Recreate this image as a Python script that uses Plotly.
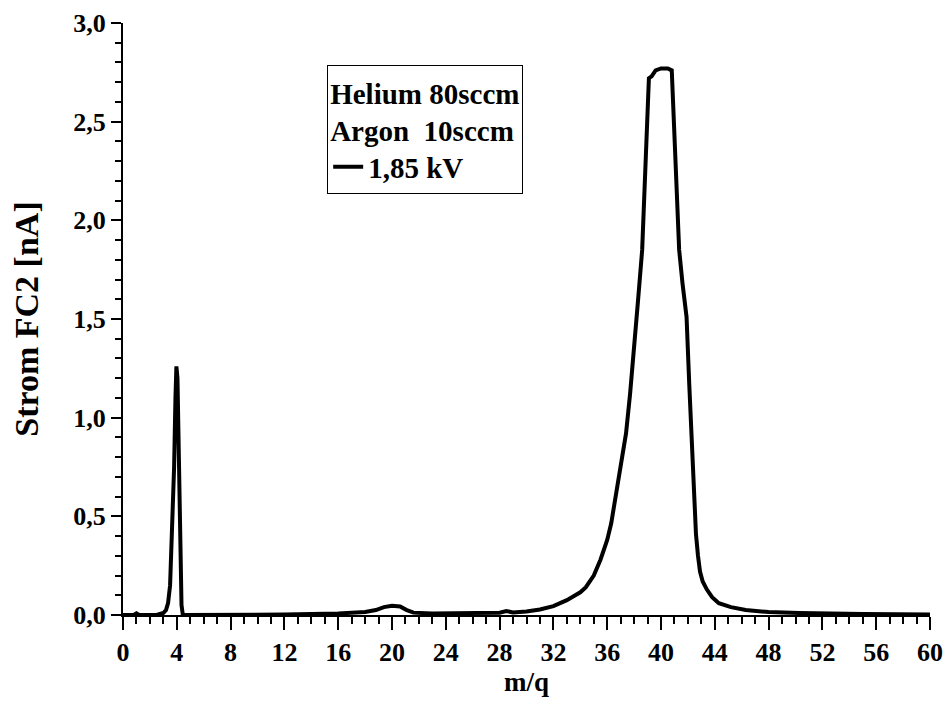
import plotly.graph_objects as go

# ─── Data ─────────────────────────────────────────────────
mq = [0, 0.8, 1.0, 1.2, 2.5, 3.0, 3.2, 3.35, 3.5, 3.65, 3.8, 3.9, 3.97, 4.05,
      4.15, 4.25, 4.35, 4.45, 8, 12, 16, 18, 18.8, 19.4, 20.0, 20.6, 21.1,
      21.6, 23, 26, 28.0, 28.5, 29.0, 30.0, 31.0, 32.0, 32.6, 33.0, 33.5, 34.0,
      34.4, 35.0, 35.5, 36.0, 36.3, 36.7, 37.0, 37.4, 37.7, 38.0, 38.3, 38.6,
      38.85, 39.1, 39.3, 39.6, 40.0, 40.5, 40.8, 41.1, 41.35, 41.6, 41.9, 42.1,
      42.3, 42.45, 42.6, 42.75, 42.9, 43.1, 43.4, 43.8, 44.3, 45.2, 46.3, 48,
      50.3, 55, 60]
strom = [0.0, 0.0, 0.008, 0.0, 0.0, 0.01, 0.025, 0.06, 0.15, 0.4, 0.75, 1.1,
         1.26, 1.2, 0.8, 0.35, 0.05, 0.0, 0.0, 0.002, 0.008, 0.015, 0.025,
         0.04, 0.047, 0.043, 0.025, 0.012, 0.008, 0.008, 0.012, 0.02, 0.013,
         0.018, 0.028, 0.045, 0.06, 0.075, 0.095, 0.115, 0.14, 0.2, 0.28, 0.38,
         0.465, 0.63, 0.76, 0.92, 1.12, 1.34, 1.6, 1.85, 2.3, 2.72, 2.73, 2.76,
         2.77, 2.77, 2.76, 2.3, 1.85, 1.68, 1.51, 1.17, 0.83, 0.6, 0.41, 0.3,
         0.22, 0.17, 0.13, 0.09, 0.06, 0.04, 0.025, 0.015, 0.01, 0.005, 0.003]

series_name = "1,85 kV"
legend_title = "Helium 80sccm<br>Argon\u00a0 10sccm"

FONT = "Liberation Serif, Times New Roman, serif"

fig = go.Figure()
fig.add_trace(go.Scatter(
    x=mq, y=strom, mode="lines", name=series_name,
    line=dict(color="black", width=4),
))

fig.update_layout(
    width=947, height=717,
    margin=dict(l=123, r=17, t=23, b=102),
    paper_bgcolor="white", plot_bgcolor="white",
    separators=",.",
    font=dict(family=FONT, color="black", size=26, weight="bold"),
    showlegend=True,
    legend=dict(
        x=0.253, y=0.929, xanchor="left", yanchor="top",
        bordercolor="black", borderwidth=1, bgcolor="white",
        font=dict(family=FONT, size=29, weight="bold"),
        title=dict(text=legend_title, side="top",
                   font=dict(family=FONT, size=29, weight="bold")),
        tracegroupgap=0,
    ),
    xaxis=dict(
        range=[0, 60], dtick=4, tick0=0, automargin=False,
        showgrid=False, zeroline=False, ticklabeloverflow="allow",
        showline=True, linecolor="black", linewidth=2,
        ticks="outside", ticklen=13, tickwidth=2, tickcolor="black",
        minor=dict(dtick=1, ticks="outside", ticklen=7, tickwidth=2,
                   tickcolor="black", showgrid=False),
        tickfont=dict(family=FONT, size=26, weight="bold"),
        title=dict(text="m/q", standoff=0,
                   font=dict(family=FONT, size=27, weight="bold")),
    ),
    yaxis=dict(
        range=[0, 3], dtick=0.5, tick0=0, tickformat=".1f", automargin=False,
        showgrid=False, zeroline=False,
        showline=True, linecolor="black", linewidth=2,
        ticks="outside", ticklen=10, tickwidth=2, tickcolor="black",
        minor=dict(dtick=0.1, ticks="outside", ticklen=6, tickwidth=2,
                   tickcolor="black", showgrid=False),
        tickfont=dict(family=FONT, size=26, weight="bold"),
        title=dict(text="Strom FC2 [nA]", standoff=24,
                   font=dict(family=FONT, size=34, weight="bold")),
    ),
)

# drop the default page margin so the figure fills the window exactly
fig.write_html("out.html", config={"displayModeBar": False},
               post_script="document.body.style.margin='0';")
